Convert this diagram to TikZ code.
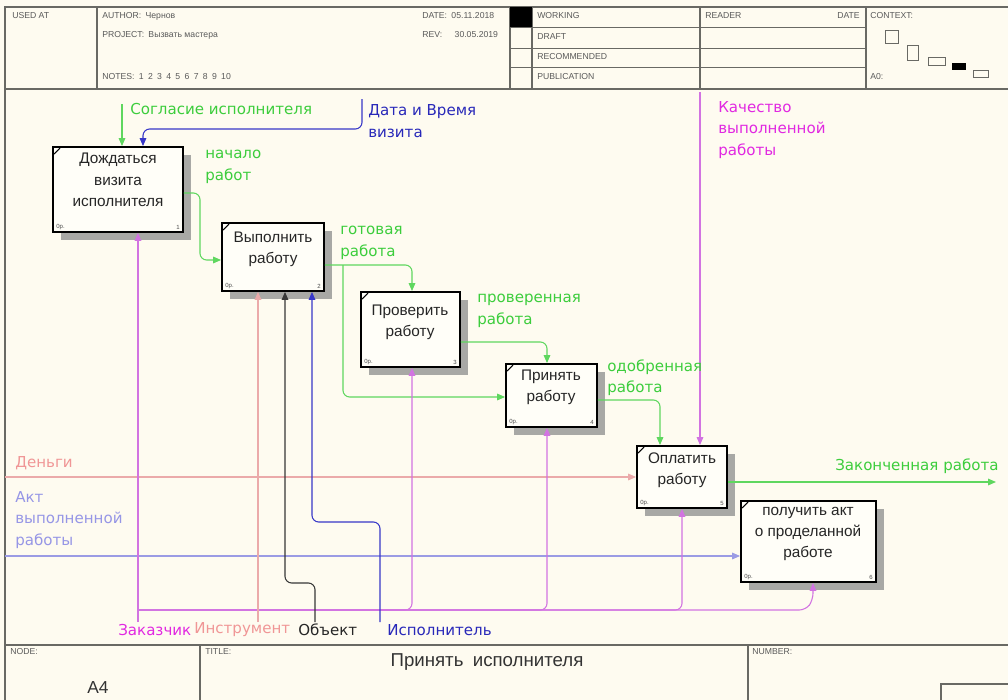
\documentclass[tikz,border=0pt]{standalone}
\usepackage{fontspec}
\setmainfont{Liberation Sans}
\newfontfamily\flowfont{DejaVu Sans}
\usetikzlibrary{arrows.meta,fit,shadows}

\definecolor{bgc}{RGB}{254,251,240}
\definecolor{boxc}{RGB}{255,254,248}
\definecolor{framec}{RGB}{105,105,100}
\definecolor{hdrc}{RGB}{90,90,90}
\definecolor{shadc}{RGB}{168,168,165}
\definecolor{gtxt}{RGB}{60,205,60}
\definecolor{gline}{RGB}{95,215,95}
\definecolor{btxt}{RGB}{40,40,185}
\definecolor{bline}{RGB}{55,55,200}
\definecolor{mtxt}{RGB}{225,40,225}
\definecolor{mline}{RGB}{210,115,225}
\definecolor{ptxt}{RGB}{240,150,150}
\definecolor{pline}{RGB}{235,170,170}
\definecolor{ltxt}{RGB}{150,150,230}
\definecolor{lline}{RGB}{155,155,228}
\definecolor{kline}{RGB}{55,55,55}

\begin{document}
\begin{tikzpicture}[x=0.75pt,y=-0.75pt,
  frame/.style={draw=framec,line width=1.1pt},
  rowline/.style={draw=framec,line width=0.7pt},
  hdr/.style={font=\fontsize{6.5}{8}\selectfont,text=hdrc,anchor=west,inner sep=0},
  proc/.style={draw=black,line width=1.4pt,fill=boxc,inner sep=0,
    drop shadow={shadow xshift=6pt,shadow yshift=-6pt,fill=shadc,opacity=1}},
  ptext/.style={font=\fontsize{11.5}{16}\selectfont,align=center,inner sep=0,text=black!85},
  tiny/.style={font=\fontsize{4.5}{5}\selectfont,inner sep=0,text=black!70},
  lbl/.style={font=\flowfont\fontsize{11.3}{16}\selectfont,align=left,anchor=west,inner sep=0},
  flow/.style={line width=0.8pt,rounded corners=5,-{Triangle[length=6pt,width=5pt]}},
  gflow/.style={flow,draw=gline,color=gline},
  bflow/.style={flow,draw=bline,color=bline},
  mflow/.style={flow,draw=mline,color=mline},
  pflow/.style={flow,draw=pline,color=pline},
  lflow/.style={flow,draw=lline,color=lline},
  kflow/.style={flow,draw=kline,color=kline}]

\useasboundingbox (0,0) rectangle (1008,700);
\fill[bgc] (0,0) rectangle (1008,700);

% ---------- frame ----------
\draw[frame] (5,700) -- (5,7) -- (1008,7);
\draw[frame] (5,89) -- (1008,89);
\draw[frame] (5,645) -- (1008,645);
\foreach \x in {97,510,532,700,866} \draw[frame] (\x,7) -- (\x,89);
\foreach \y in {27,48,67} \draw[rowline] (510,\y) -- (866,\y);
\fill[black] (510,7) rectangle (532,27);
\draw[frame] (200,645) -- (200,700);
\draw[frame] (748,645) -- (748,700);
\draw[frame] (1008,684) -- (941,684) -- (941,700);

% ---------- header texts ----------
\node[hdr] (usedat) at (12,16) {USED AT};
\node[hdr] (author) at (102,16) {AUTHOR:\enspace Чернов};
\node[hdr] (project) at (102,35) {PROJECT:\enspace Вызвать мастера};
\node[hdr] (notes) at (102,77) {NOTES:\enspace 1\enspace 2\enspace 3\enspace 4\enspace 5\enspace 6\enspace 7\enspace 8\enspace 9\enspace 10};
\node[hdr] (date) at (422,16) {DATE:\enspace 05.11.2018};
\node[hdr] (rev) at (422,35) {REV:\quad\, 30.05.2019};
\node[hdr] (working) at (537,16) {WORKING};
\node[hdr] (draft) at (537,37) {DRAFT};
\node[hdr] (recomm) at (537,57) {RECOMMENDED};
\node[hdr] (publ) at (537,77) {PUBLICATION};
\node[hdr] (reader) at (705,16) {READER};
\node[hdr,anchor=east] (rdate) at (860,16) {DATE};
\node[hdr] (context) at (870,16) {CONTEXT:};
\node[hdr] (ctxnode) at (870,77) {A0:};

% context miniature
\draw[framec,line width=0.6pt] (885,30) rectangle (898,43);
\draw[framec,line width=0.6pt] (907,45) rectangle (918,60);
\draw[framec,line width=0.6pt] (928,57) rectangle (945,65);
\fill[black] (952,63) rectangle (966,70);
\draw[framec,line width=0.6pt] (973,70) rectangle (988,77);

% ---------- footer texts ----------
\node[hdr] (nodelbl) at (10,652) {NODE:};
\node[font=\fontsize{13}{15}\selectfont,inner sep=0,text=black!80] (nodeval) at (98,688) {A4};
\node[hdr] (titlelbl) at (205,652) {TITLE:};
\node[font=\fontsize{14}{16}\selectfont,inner sep=0,text=black!80] (title) at (487,662) {Принять\enspace исполнителя};
\node[hdr] (numlbl) at (752,652) {NUMBER:};

% ---------- activity boxes ----------
\node[proc,fit={(53,147)(183,232)}] (b1) {};
\node[proc,fit={(222,223)(324,291)}] (b2) {};
\node[proc,fit={(361,292)(460,367)}] (b3) {};
\node[proc,fit={(506,364)(597,427)}] (b4) {};
\node[proc,fit={(637,446)(727,508)}] (b5) {};
\node[proc,fit={(741,501)(876,582)}] (b6) {};

\node[ptext] (t1) at (118,180) {Дождаться\\визита\\исполнителя};
\node[ptext] (t2) at (273,249) {Выполнить\\работу};
\node[ptext] (t3) at (410,322) {Проверить\\работу};
\node[ptext] (t4) at (551,387) {Принять\\работу};
\node[ptext] (t5) at (682,470) {Оплатить\\работу};
\node[ptext] (t6) at (808,534) {получить акт\\о проделанной\\работе};

% corner marks and box numbers
\foreach \b/\n in {b1/1,b2/2,b3/3,b4/4,b5/5,b6/6}{
  \draw[black,line width=0.8pt] ([shift={(2,8)}]\b.north west) -- ([shift={(8,2)}]\b.north west);
  \node[tiny,anchor=south west] (\b op) at ([shift={(4,-3)}]\b.south west) {0р.};
  \node[tiny,anchor=south east] (\b num) at ([shift={(-4,-3)}]\b.south east) {\n};
}

% ---------- controls ----------
\coordinate (soglS) at (122,104);
\draw[gflow] (soglS) -- (soglS |- b1.north);
\node[lbl,text=gtxt] (sogl) at (130,109) {Согласие исполнителя};

\coordinate (dataS) at (362,99);
\draw[bflow] (dataS) -- (362,129) -- (143,129) -- (143,129 |- b1.north);
\node[lbl,text=btxt] (data) at (368,121) {Дата и Время\\визита};

\coordinate (kachS) at (700,92);
\draw[mflow] (kachS) -- (kachS |- b5.north);
\node[lbl,text=mtxt] (kach) at (718,130) {Качество\\выполненной\\работы};

% ---------- flows between activities ----------
\draw[gflow] (b1.east |- 0,193) -- (200,193) -- (200,260) -- (b2.west |- 0,260);
\node[lbl,text=gtxt] (nach) at (205,167) {начало\\работ};

\draw[gflow] (b2.east |- 0,265) -- (412,265) -- (412,265 |- b3.north);
\draw[gflow] (343,265) -- (343,397) -- (b4.west |- 0,397);
\node[lbl,text=gtxt] (got) at (340,243) {готовая\\работа};

\draw[gflow] (b3.east |- 0,342) -- (547,342) -- (547,342 |- b4.north);
\node[lbl,text=gtxt] (prov) at (477,311) {проверенная\\работа};

\draw[gflow] (b4.east |- 0,400) -- (660,400) -- (660,400 |- b5.north);
\node[lbl,text=gtxt] (odob) at (607,378) {одобренная\\работа};

% ---------- output ----------
\coordinate (zakE) at (996,482);
\draw[gflow] (b5.east |- zakE) -- (zakE);
\node[lbl,text=gtxt] (zak) at (835,466) {Законченная работа};

% ---------- inputs ----------
\coordinate (dengS) at (5,477);
\draw[pflow] (dengS) -- (b5.west |- dengS);
\node[lbl,text=ptxt] (deng) at (15,463) {Деньги};

\coordinate (aktS) at (5,556);
\draw[lflow] (aktS) -- (b6.west |- aktS);
\node[lbl,text=ltxt] (akt) at (15,520) {Акт\\выполненной\\работы};

% ---------- mechanisms ----------
\coordinate (zakazS) at (138,622);
\draw[mflow] (zakazS) -- (zakazS |- b1.south);
\draw[mflow] (138,610) -- (412,610) -- (412,610 |- b3.south);
\draw[mflow] (138,610) -- (547,610) -- (547,610 |- b4.south);
\draw[mflow] (138,610) -- (682,610) -- (682,610 |- b5.south);
\draw[mflow] (138,610) -- (806,610) -- (813,600) -- (813,600 |- b6.south);
\node[lbl,text=mtxt] (zakaz) at (118,630) {Заказчик};

\coordinate (instrS) at (258,622);
\draw[pflow] (instrS) -- (instrS |- b2.south);
\node[lbl,text=ptxt] (instr) at (194,630) {Инструмент};

\coordinate (objS) at (315,622);
\draw[kflow] (objS) -- (315,583) -- (285,583) -- (285,583 |- b2.south);
\node[lbl,text=black!85] (obj) at (298,630) {Объект};

\coordinate (ispS) at (380,622);
\draw[bflow] (ispS) -- (380,522) -- (312,522) -- (312,522 |- b2.south);
\node[lbl,text=btxt] (isp) at (387,630) {Исполнитель};

\end{tikzpicture}
\end{document}
